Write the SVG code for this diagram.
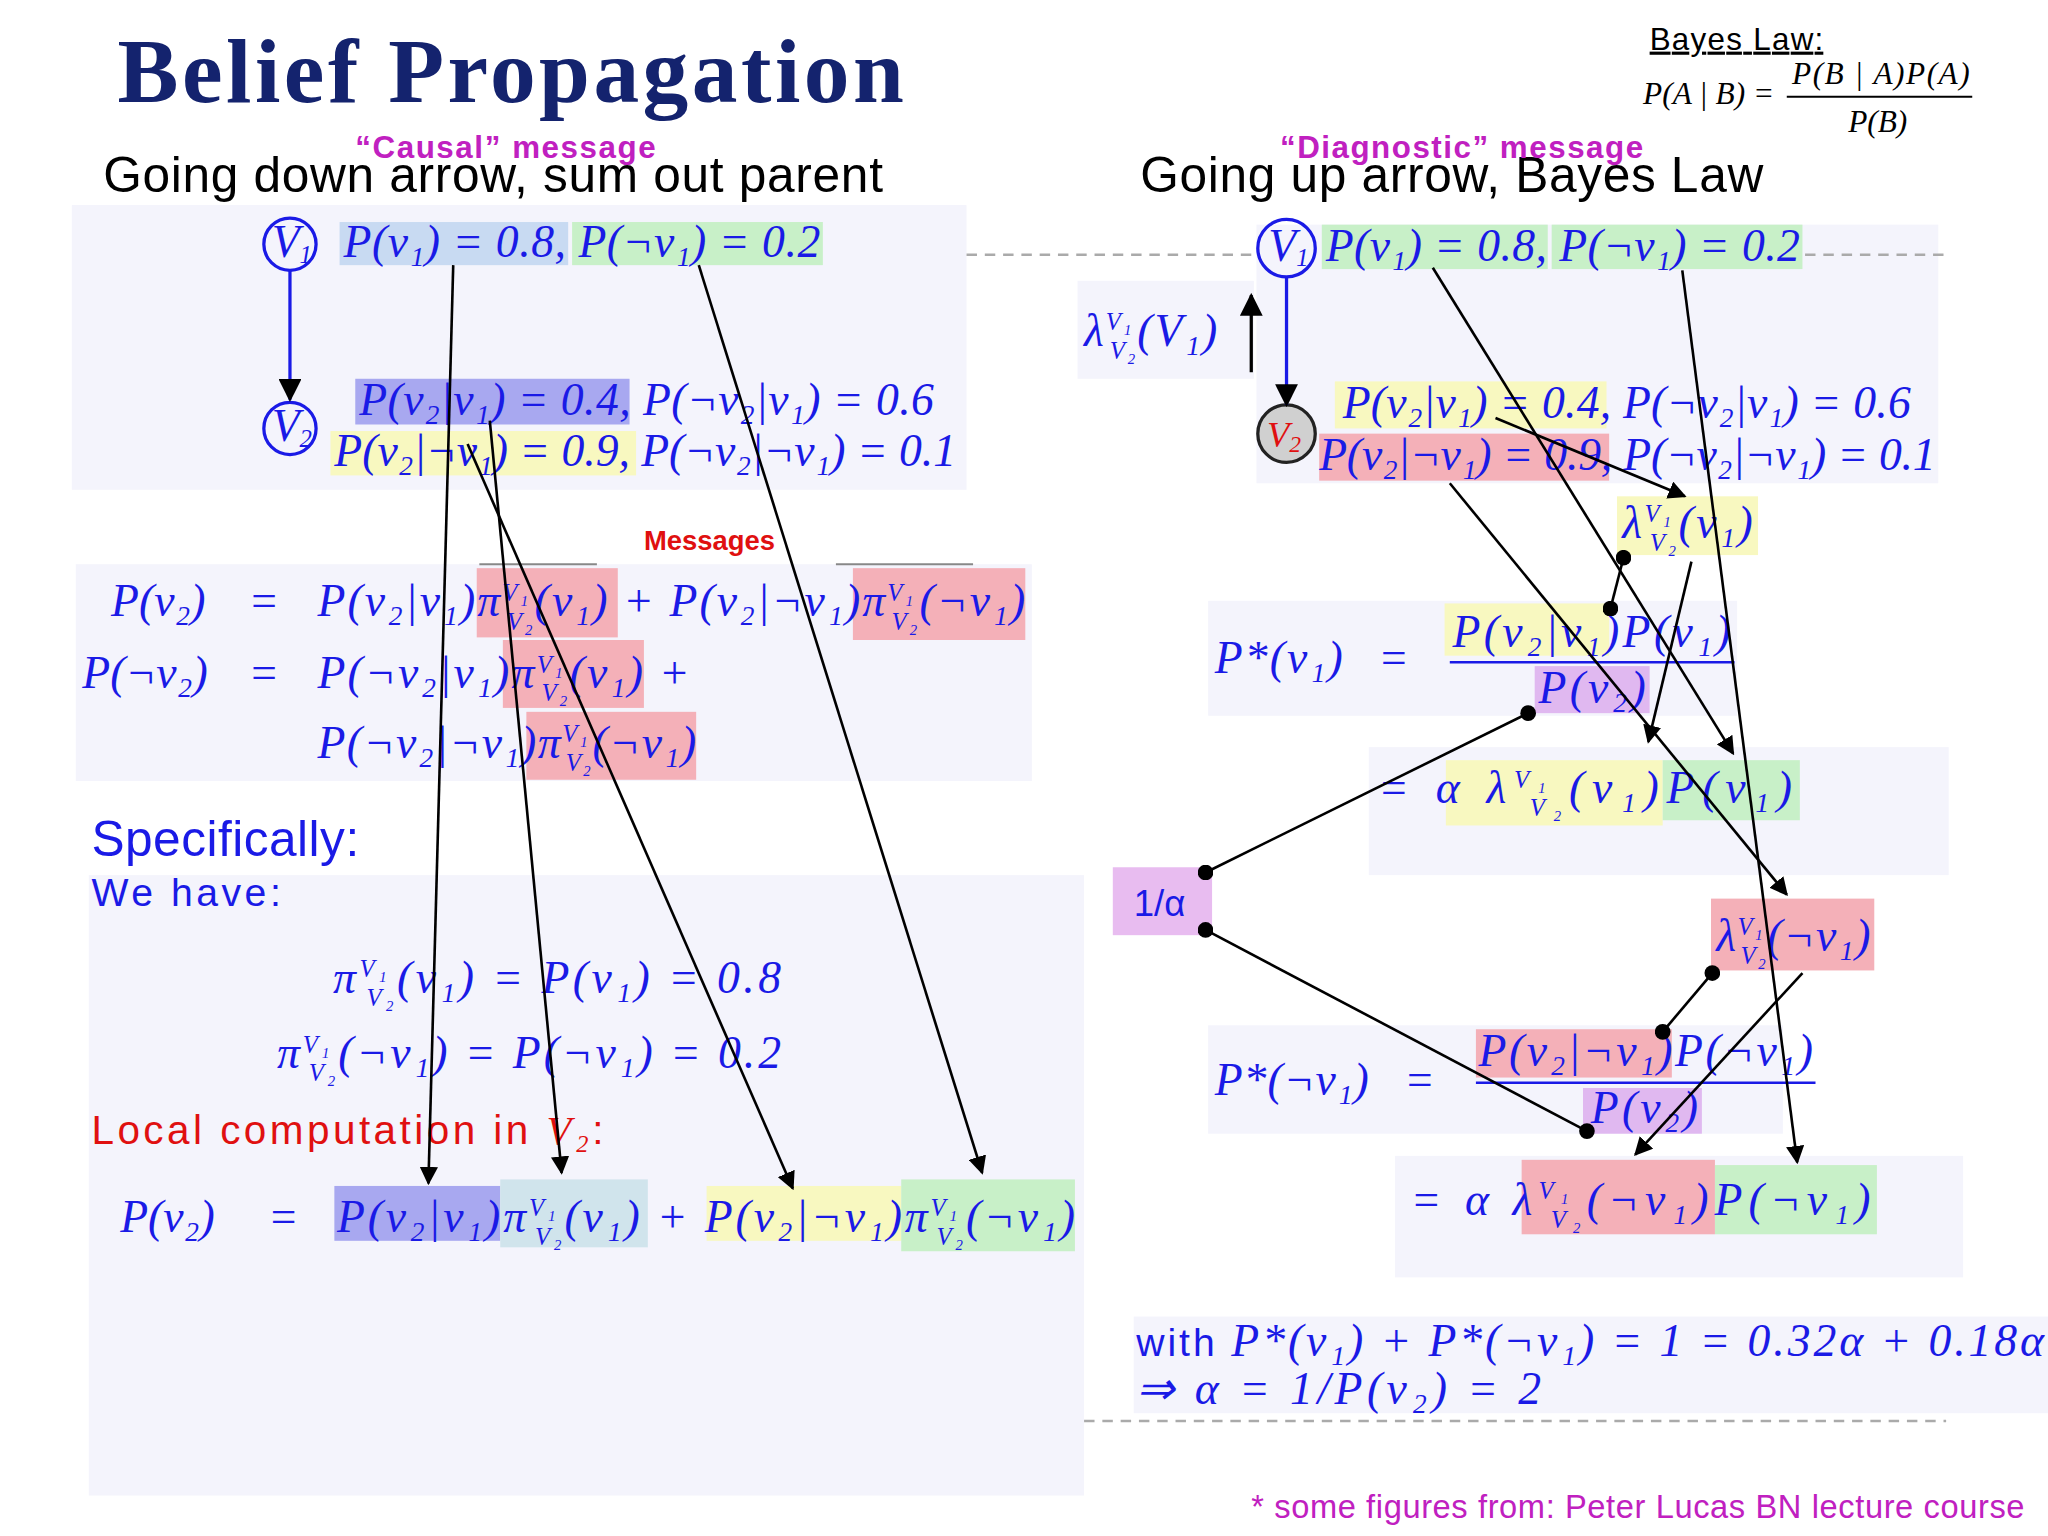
<svg xmlns="http://www.w3.org/2000/svg" width="2048" height="1536" viewBox="0 0 2048 1536">
<defs>
<marker id="ah" viewBox="0 0 10 10" refX="9" refY="5" markerWidth="7" markerHeight="7" orient="auto-start-reverse"><path d="M0,0 L10,5 L0,10 z" fill="#000"/></marker>
<marker id="dot" viewBox="0 0 10 10" refX="5" refY="5" markerWidth="6" markerHeight="6"><circle cx="5" cy="5" r="5" fill="#000"/></marker>
<style>
.m{font-family:"Liberation Serif",serif;font-style:italic;fill:#1a1ae6;font-size:35px}
.s{font-size:19px}
.n{font-family:"Liberation Sans",sans-serif;fill:#000}
.bg{fill:#f4f4fc}
.c{fill:none;stroke:#1a1ae6;stroke-width:2.5}
.ar{stroke:#000;stroke-width:2;fill:none;marker-end:url(#ah)}
.dd{stroke:#000;stroke-width:2;fill:none;marker-start:url(#dot);marker-end:url(#dot)}
.dash{stroke:#aaa;stroke-width:2;stroke-dasharray:8 6}
</style>
</defs>
<rect width="2048" height="1536" fill="#fff"/>
<g transform="scale(1.30612)">
<g id="backgrounds">
<rect class="bg" x="55" y="157" width="685" height="218"/>
<rect class="bg" x="58" y="432" width="732" height="166"/>
<rect class="bg" x="68" y="670" width="762" height="475"/>
<rect class="bg" x="962" y="172" width="522" height="198"/>
<rect class="bg" x="825" y="215" width="135" height="75"/>
<rect class="bg" x="925" y="460" width="405" height="88"/>
<rect class="bg" x="1048" y="572" width="444" height="98"/>
<rect class="bg" x="925" y="785" width="440" height="83"/>
<rect class="bg" x="1068" y="885" width="435" height="93"/>
<rect class="bg" x="868" y="1008" width="700" height="74"/>
</g>
<g id="highlights">
<rect x="260" y="170" width="175" height="33" fill="#c8daf2"/>
<rect x="438" y="170" width="192" height="33" fill="#c8f0c8"/>
<rect x="272" y="290" width="210" height="35" fill="#a8a8f0"/>
<rect x="253" y="330" width="234" height="34" fill="#f8f8c0"/>
<rect x="365" y="435" width="108" height="53" fill="#f4b0b8"/>
<rect x="653" y="435" width="132" height="55" fill="#f4b0b8"/>
<rect x="385" y="490" width="108" height="52" fill="#f4b0b8"/>
<rect x="403" y="545" width="130" height="52" fill="#f4b0b8"/>
<rect x="256" y="908" width="127" height="42" fill="#a8a8f0"/>
<rect x="383" y="903" width="113" height="52" fill="#d0e4ec"/>
<rect x="541" y="908" width="149" height="42" fill="#f8f8c0"/>
<rect x="690" y="903" width="133" height="55" fill="#c8f0c8"/>
<rect x="1012" y="172" width="173" height="34" fill="#c8f0c8"/>
<rect x="1188" y="172" width="192" height="34" fill="#c8f0c8"/>
<rect x="1022" y="292" width="208" height="36" fill="#f8f8c0"/>
<rect x="1010" y="332" width="222" height="36" fill="#f4b0b8"/>
<rect x="1238" y="380" width="108" height="45" fill="#f8f8c0"/>
<rect x="1106" y="462" width="126" height="40" fill="#f8f8c0"/>
<rect x="1175" y="510" width="88" height="36" fill="#e0b8f0"/>
<rect x="1107" y="582" width="166" height="50" fill="#f8f8c0"/>
<rect x="1273" y="582" width="105" height="46" fill="#c8f0c8"/>
<rect x="852" y="664" width="76" height="52" fill="#e8bcf0"/>
<rect x="1310" y="688" width="125" height="55" fill="#f4b0b8"/>
<rect x="1130" y="788" width="150" height="37" fill="#f4b0b8"/>
<rect x="1212" y="833" width="91" height="35" fill="#e0b8f0"/>
<rect x="1165" y="888" width="148" height="57" fill="#f4b0b8"/>
<rect x="1313" y="892" width="124" height="53" fill="#c8f0c8"/>
</g>
<g id="dashes">
<line class="dash" x1="740" y1="195" x2="960" y2="195"/>
<line class="dash" x1="1382" y1="195" x2="1490" y2="195"/>
<line class="dash" x1="830" y1="1088" x2="1490" y2="1088"/>
<line x1="367" y1="432" x2="457" y2="432" stroke="#888" stroke-width="1.5"/>
<line x1="640" y1="432" x2="745" y2="432" stroke="#888" stroke-width="1.5"/>
</g>
<g id="header">
<text x="90" y="78" font-family="Liberation Serif,serif" font-weight="bold" font-size="70" fill="#14236e" textLength="602">Belief Propagation</text>
<text x="1263" y="38" class="n" font-size="24" text-decoration="underline" textLength="133">Bayes Law:</text>
<text x="1258" y="80" font-family="Liberation Serif,serif" font-style="italic" font-size="24">P(A | B) =</text>
<text x="1372" y="64" font-family="Liberation Serif,serif" font-style="italic" font-size="24" textLength="136">P(B | A)P(A)</text>
<line x1="1368" y1="74" x2="1510" y2="74" stroke="#000" stroke-width="1.5"/>
<text x="1415" y="101" font-family="Liberation Serif,serif" font-style="italic" font-size="24">P(B)</text>
<text x="79" y="147" class="n" font-size="38" textLength="597">Going down arrow, sum out parent</text>
<text x="272" y="121" font-family="Liberation Sans,sans-serif" font-weight="bold" font-size="24" fill="#c020c0" textLength="230">“Causal” message</text>
<text x="873" y="147" class="n" font-size="38" textLength="477">Going up arrow, Bayes Law</text>
<text x="980" y="121" font-family="Liberation Sans,sans-serif" font-weight="bold" font-size="24" fill="#c020c0" textLength="278">“Diagnostic” message</text>
</g>
<g id="node-left-V1"><circle class="c" cx="222" cy="187" r="20"/><text class="m" x="208" y="197" font-size="27">V<tspan class="s" dy="4">1</tspan></text></g>
<g id="node-left-V2"><circle class="c" cx="222" cy="328" r="20"/><text class="m" x="208" y="338" font-size="27">V<tspan class="s" dy="4">2</tspan></text></g>
<g id="node-right-V1"><circle class="c" cx="985" cy="190" r="22"/><text class="m" x="971" y="200" font-size="27">V<tspan class="s" dy="4">1</tspan></text></g>
<g id="node-right-V2"><circle cx="985" cy="332" r="22" fill="#d0d0d0" stroke="#222" stroke-width="2.5"/><text x="970" y="342" font-family="Liberation Serif,serif" font-style="italic" font-size="28" fill="#e01010">V<tspan font-size="18" dy="4">2</tspan></text></g>
<g id="left-text">
<text class="m" x="263" y="197" textLength="365">P(v₁) = 0.8, P(¬v₁) = 0.2</text>
<text class="m" x="275" y="318" textLength="440">P(v₂|v₁) = 0.4, P(¬v₂|v₁) = 0.6</text>
<text class="m" x="256" y="357" textLength="476">P(v₂|¬v₁) = 0.9, P(¬v₂|¬v₁) = 0.1</text>
<text x="493" y="421" font-family="Liberation Sans,sans-serif" font-weight="bold" font-size="21" fill="#e01010">Messages</text>
<text class="m" x="85" y="472">P(v₂)</text><text class="m" x="190" y="472">=</text>
<text class="m" x="243" y="472" textLength="542">P(v₂|v₁)π<tspan class="s" dy="-12">V₁</tspan><tspan class="s" dx="-18" dy="22">V₂</tspan><tspan dy="-10">(v₁) + P(v₂|¬v₁)π</tspan><tspan class="s" dy="-12">V₁</tspan><tspan class="s" dx="-18" dy="22">V₂</tspan><tspan dy="-10">(¬v₁)</tspan></text>
<text class="m" x="63" y="527">P(¬v₂)</text><text class="m" x="190" y="527">=</text>
<text class="m" x="243" y="527" textLength="285">P(¬v₂|v₁)π<tspan class="s" dy="-12">V₁</tspan><tspan class="s" dx="-18" dy="22">V₂</tspan><tspan dy="-10">(v₁) +</tspan></text>
<text class="m" x="243" y="580" textLength="290">P(¬v₂|¬v₁)π<tspan class="s" dy="-12">V₁</tspan><tspan class="s" dx="-18" dy="22">V₂</tspan><tspan dy="-10">(¬v₁)</tspan></text>
<text x="70" y="655" font-family="Liberation Sans,sans-serif" font-size="38" fill="#1a1ae6" textLength="205">Specifically:</text>
<text x="70" y="694" font-family="Liberation Sans,sans-serif" font-size="30" fill="#1a1ae6" textLength="145">We have:</text>
<text class="m" x="255" y="760" textLength="343">π<tspan class="s" dy="-12">V₁</tspan><tspan class="s" dx="-18" dy="22">V₂</tspan><tspan dy="-10">(v₁) = P(v₁) = 0.8</tspan></text>
<text class="m" x="212" y="818" textLength="386">π<tspan class="s" dy="-12">V₁</tspan><tspan class="s" dx="-18" dy="22">V₂</tspan><tspan dy="-10">(¬v₁) = P(¬v₁) = 0.2</tspan></text>
<text x="70" y="876" font-family="Liberation Sans,sans-serif" font-size="31" fill="#e01010" textLength="392">Local computation in <tspan font-family="Liberation Serif,serif" font-style="italic">V₂</tspan>:</text>
<text class="m" x="92" y="943">P(v₂)</text><text class="m" x="205" y="943">=</text>
<text class="m" x="258" y="943" textLength="565">P(v₂|v₁)π<tspan class="s" dy="-12">V₁</tspan><tspan class="s" dx="-18" dy="22">V₂</tspan><tspan dy="-10">(v₁) + P(v₂|¬v₁)π</tspan><tspan class="s" dy="-12">V₁</tspan><tspan class="s" dx="-18" dy="22">V₂</tspan><tspan dy="-10">(¬v₁)</tspan></text>
</g>
<g id="right-text">
<text class="m" x="1015" y="200" textLength="363">P(v₁) = 0.8, P(¬v₁) = 0.2</text>
<text class="m" x="1028" y="320" textLength="435">P(v₂|v₁) = 0.4, P(¬v₂|v₁) = 0.6</text>
<text class="m" x="1010" y="360" textLength="472">P(v₂|¬v₁) = 0.9, P(¬v₂|¬v₁) = 0.1</text>
<text class="m" x="830" y="265" textLength="102">λ<tspan class="s" dy="-12">V₁</tspan><tspan class="s" dx="-18" dy="22">V₂</tspan><tspan dy="-10">(V₁)</tspan></text>
<text class="m" x="1242" y="412" textLength="100">λ<tspan class="s" dy="-12">V₁</tspan><tspan class="s" dx="-18" dy="22">V₂</tspan><tspan dy="-10">(v₁)</tspan></text>
<text class="m" x="930" y="515" textLength="98">P*(v₁)</text><text class="m" x="1055" y="515">=</text>
<text class="m" x="1112" y="495" textLength="213">P(v₂|v₁)P(v₁)</text>
<line x1="1110" y1="507" x2="1328" y2="507" stroke="#1a1ae6" stroke-width="2"/>
<text class="m" x="1178" y="538" textLength="82">P(v₂)</text>
<text class="m" x="1055" y="615" textLength="317">=  α λ<tspan class="s" dy="-12">V₁</tspan><tspan class="s" dx="-18" dy="22">V₂</tspan><tspan dy="-10">(v₁)P(v₁)</tspan></text>
<text x="868" y="701" font-family="Liberation Sans,sans-serif" font-size="28" fill="#1a1ae6">1/α</text>
<text class="m" x="1314" y="728" textLength="118">λ<tspan class="s" dy="-12">V₁</tspan><tspan class="s" dx="-18" dy="22">V₂</tspan><tspan dy="-10">(¬v₁)</tspan></text>
<text class="m" x="930" y="838" textLength="118">P*(¬v₁)</text><text class="m" x="1075" y="838">=</text>
<text class="m" x="1132" y="816" textLength="256">P(v₂|¬v₁)P(¬v₁)</text>
<line x1="1130" y1="829" x2="1390" y2="829" stroke="#1a1ae6" stroke-width="2"/>
<text class="m" x="1218" y="860" textLength="82">P(v₂)</text>
<text class="m" x="1080" y="930" textLength="352">=  α λ<tspan class="s" dy="-12">V₁</tspan><tspan class="s" dx="-18" dy="22">V₂</tspan><tspan dy="-10">(¬v₁)P(¬v₁)</tspan></text>
<text x="870" y="1038" font-family="Liberation Sans,sans-serif" font-size="30" fill="#1a1ae6" textLength="695">with <tspan class="m">P*(v₁) + P*(¬v₁) = 1 = 0.32α + 0.18α</tspan></text>
<text class="m" x="870" y="1075" textLength="310">⇒ α = 1/P(v₂) = 2</text>
<text x="958" y="1162" font-family="Liberation Sans,sans-serif" font-size="25" fill="#c020c0" textLength="592">* some figures from: Peter Lucas BN lecture course</text>
</g>
<g id="connectors">
<line x1="222" y1="207" x2="222" y2="306" stroke="#1a1ae6" stroke-width="2.5" marker-end="url(#ah)"/>
<line x1="985" y1="212" x2="985" y2="310" stroke="#1a1ae6" stroke-width="2.5" marker-end="url(#ah)"/>
<line x1="958" y1="285" x2="958" y2="226" stroke="#000" stroke-width="2.5" marker-end="url(#ah)"/>
<line class="ar" x1="347" y1="203" x2="328" y2="906"/>
<line class="ar" x1="375" y1="322" x2="430" y2="898"/>
<line class="ar" x1="358" y1="340" x2="607" y2="910"/>
<line class="ar" x1="535" y1="203" x2="752" y2="898"/>
<line class="ar" x1="1097" y1="205" x2="1327" y2="577"/>
<line class="ar" x1="1288" y1="207" x2="1376" y2="890"/>
<line class="ar" x1="1145" y1="320" x2="1290" y2="380"/>
<line class="ar" x1="1110" y1="370" x2="1368" y2="685"/>
<line class="ar" x1="1295" y1="430" x2="1262" y2="568"/>
<line class="ar" x1="1380" y1="745" x2="1252" y2="884"/>
<line class="dd" x1="1243" y1="427" x2="1233" y2="466"/>
<line class="dd" x1="1170" y1="546" x2="923" y2="668"/>
<line class="dd" x1="923" y1="712" x2="1215" y2="866"/>
<line class="dd" x1="1311" y1="745" x2="1273" y2="790"/>
</g>
</g>
</svg>
